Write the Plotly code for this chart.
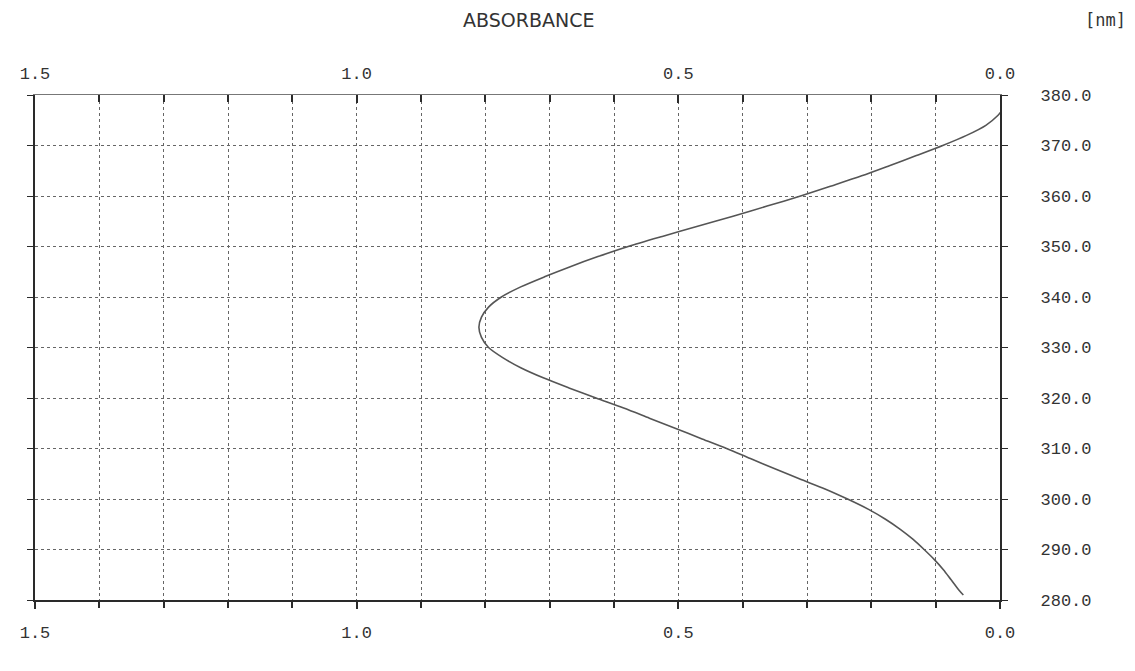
import plotly.graph_objects as go

# Wavelength [nm] and absorbance
wavelength = [380, 378, 376, 374, 372, 370, 368, 366, 364, 362, 360, 358, 356, 354,
              352, 350, 348, 346, 344, 342, 340, 338, 336, 334, 332, 330, 328, 326,
              324, 322, 320, 318, 316, 314, 312, 310, 308, 306, 304, 302, 300, 298,
              296, 294, 292, 290, 288, 286, 284, 282, 281]
absorbance = [-0.023, -0.01, 0.003, 0.022, 0.052, 0.089, 0.13, 0.172, 0.215, 0.262, 0.31,
              0.362, 0.415, 0.47, 0.525, 0.578, 0.625, 0.668, 0.708, 0.745, 0.775, 0.795,
              0.806, 0.81, 0.806, 0.795, 0.773, 0.745, 0.71, 0.67, 0.628, 0.585, 0.545,
              0.505, 0.465, 0.425, 0.388, 0.35, 0.312, 0.272, 0.237, 0.205, 0.178, 0.155,
              0.135, 0.118, 0.102, 0.088, 0.076, 0.064, 0.057]

x_tickvals = [1.5, 1.0, 0.5, 0.0]
x_ticktext = ["1.5", "1.0", "0.5", "0.0"]
y_tickvals = [280, 290, 300, 310, 320, 330, 340, 350, 360, 370, 380]
y_ticktext = ["280.0", "290.0", "300.0", "310.0", "320.0", "330.0", "340.0",
              "350.0", "360.0", "370.0", "380.0"]

INK = "#2a2a2a"
GRID = "#666666"
NUMFONT = dict(family="Liberation Mono, DejaVu Sans Mono, monospace", size=17, color="#333333")

fig = go.Figure()
fig.add_trace(go.Scatter(
    x=absorbance, y=wavelength, mode="lines",
    line=dict(color="#555555", width=1.6, shape="spline", smoothing=0.8),
    hoverinfo="skip", showlegend=False,
))
# invisible companion trace so the top absorbance axis is drawn
fig.add_trace(go.Scatter(
    x=absorbance, y=wavelength, xaxis="x2", mode="lines",
    line=dict(color="rgba(0,0,0,0)", width=0),
    hoverinfo="skip", showlegend=False,
))

fig.update_layout(
    width=1127, height=663,
    margin=dict(l=27, r=135, t=87, b=71),
    paper_bgcolor="white", plot_bgcolor="white",
    showlegend=False,
    xaxis=dict(
        range=[1.5, 0.0], tickvals=x_tickvals, ticktext=x_ticktext,
        tickfont=NUMFONT, ticks="outside", ticklen=7, tickcolor=INK, tickwidth=1.5,
        ticklabelstandoff=9,
        showline=True, linecolor=INK, linewidth=1.5,
        showgrid=True, gridcolor=GRID, griddash="dot", gridwidth=1,
        zeroline=False,
        minor=dict(dtick=0.1, ticks="outside", ticklen=6, tickcolor=INK,
                   showgrid=True, gridcolor=GRID, griddash="dot", gridwidth=1),
    ),
    xaxis2=dict(
        overlaying="x", side="top", range=[1.5, 0.0],
        tickvals=x_tickvals, ticktext=x_ticktext, tickfont=NUMFONT,
        ticks="inside", ticklen=8, tickcolor=INK, tickwidth=1.5,
        ticklabelstandoff=8,
        showline=True, linecolor="#777777", linewidth=1.2,
        showgrid=False, zeroline=False,
        minor=dict(dtick=0.1, ticks="inside", ticklen=7, tickcolor=INK),
    ),
    yaxis=dict(
        range=[280, 380], side="right", tickvals=y_tickvals, ticktext=y_ticktext,
        tickfont=NUMFONT, ticks="outside", ticklen=6, tickcolor=INK,
        ticklabelstandoff=29,
        showline=True, linecolor=INK, linewidth=2.2, mirror="ticks",
        showgrid=True, gridcolor=GRID, griddash="dot", gridwidth=1,
        zeroline=False,
    ),
    annotations=[
        dict(text="ABSORBANCE", xref="paper", yref="paper", x=0.511, y=1.149,
             xanchor="center", yanchor="middle", showarrow=False,
             font=dict(family="DejaVu Sans", size=19, color="#333333")),
        dict(text="[nm]", xref="paper", yref="paper", x=1.109, y=1.149,
             xanchor="center", yanchor="middle", showarrow=False,
             font=dict(family="DejaVu Sans Mono", size=17, color="#333333")),
    ],
)

fig.write_html("out.html")
